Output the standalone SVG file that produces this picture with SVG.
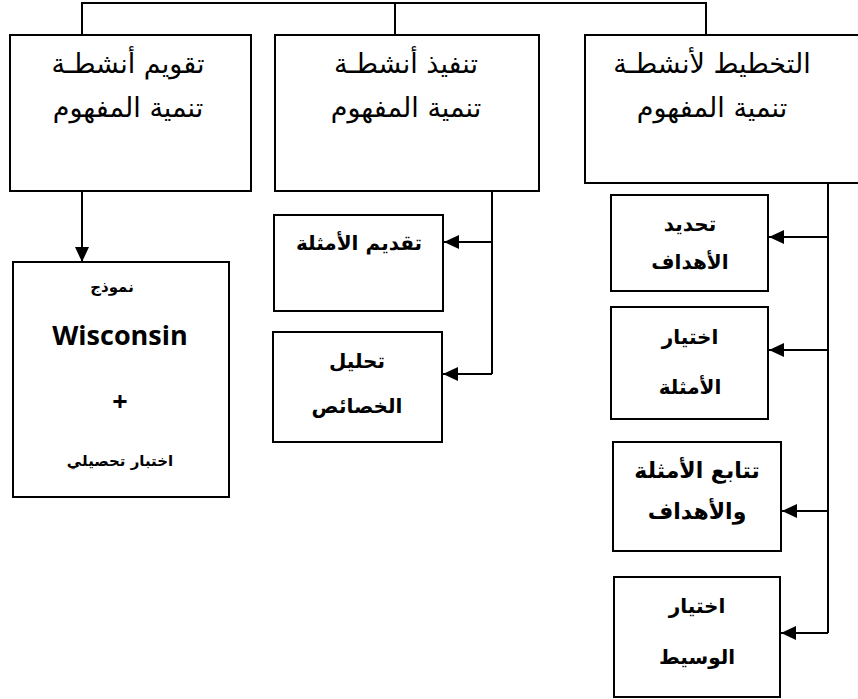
<svg xmlns="http://www.w3.org/2000/svg" width="858" height="699" viewBox="0 0 858 699">
<style>
rect{fill:#fff;stroke:#000;stroke-width:2}
.c line,.c path{stroke:#000;stroke-width:2;fill:none}
text{font-family:"DejaVu Sans","Liberation Sans",sans-serif;text-anchor:middle;fill:#000}
.h{font-size:27px}
.b{font-size:20px;font-weight:bold}
.s{font-size:15px;font-weight:bold}
.w{font-size:27px;font-weight:bold;font-family:"Open Sans","Liberation Sans",sans-serif}
</style>
<defs>
<marker id="ah" markerWidth="15" markerHeight="14" refX="15" refY="7" orient="auto" markerUnits="userSpaceOnUse">
<path d="M0,0 L15,7 L0,14 Z" fill="#000"/>
</marker>
</defs>
<g class="c" id="connectors">
<path d="M82,35 V3 H706 V35"/>
<line x1="395" y1="3" x2="395" y2="35"/>
<line x1="82" y1="191" x2="82" y2="262" marker-end="url(#ah)"/>
<path d="M492,183 V374"/>
<line x1="492" y1="242" x2="444" y2="242" marker-end="url(#ah)"/>
<line x1="492" y1="374" x2="443" y2="374" marker-end="url(#ah)"/>
<path d="M828,183 V633"/>
<line x1="828" y1="237" x2="769" y2="237" marker-end="url(#ah)"/>
<line x1="828" y1="350" x2="769" y2="350" marker-end="url(#ah)"/>
<line x1="828" y1="511" x2="782" y2="511" marker-end="url(#ah)"/>
<line x1="828" y1="633" x2="781" y2="633" marker-end="url(#ah)"/>
</g>
<g id="evaluate">
<rect x="10" y="35" width="241" height="156"/>
<text class="h" x="128" y="73">تقويم أنشطـة</text>
<text class="h" x="128" y="117">تنمية المفهوم</text>
</g>
<g id="implement">
<rect x="275" y="35" width="264" height="156"/>
<text class="h" x="406" y="73">تنفيذ أنشطـة</text>
<text class="h" x="406" y="117">تنمية المفهوم</text>
</g>
<g id="plan">
<rect x="585" y="35" width="280" height="148"/>
<text class="h" x="712" y="73">التخطيط لأنشطـة</text>
<text class="h" x="712" y="117">تنمية المفهوم</text>
</g>
<g id="wisconsin">
<rect x="13" y="262" width="216" height="235"/>
<text class="s" x="112" y="292">نموذج</text>
<text class="w" x="120" y="345">Wisconsin</text>
<text class="w" x="120" y="411">+</text>
<text class="s" x="120" y="466">اختبار تحصيلي</text>
</g>
<g id="present-examples">
<rect x="274" y="215" width="169" height="96"/>
<text class="b" x="359" y="250">تقديم الأمثلة</text>
</g>
<g id="analyze">
<rect x="273" y="332" width="169" height="110"/>
<text class="b" x="357" y="368">تحليل</text>
<text class="b" x="357" y="413">الخصائص</text>
</g>
<g id="set-goals">
<rect x="611" y="195" width="157" height="96"/>
<text class="b" x="690" y="231">تحديد</text>
<text class="b" x="690" y="269">الأهداف</text>
</g>
<g id="choose-examples">
<rect x="611" y="307" width="157" height="112"/>
<text class="b" x="690" y="344">اختيار</text>
<text class="b" x="690" y="394">الأمثلة</text>
</g>
<g id="sequence">
<rect x="613" y="442" width="168" height="109"/>
<text class="b" x="697" y="478" style="font-size:22px">تتابع الأمثلة</text>
<text class="b" x="697" y="519" style="font-size:22px">والأهداف</text>
</g>
<g id="choose-medium">
<rect x="614" y="577" width="166" height="120"/>
<text class="b" x="697" y="613">اختيار</text>
<text class="b" x="697" y="664">الوسيط</text>
</g>
</svg>
